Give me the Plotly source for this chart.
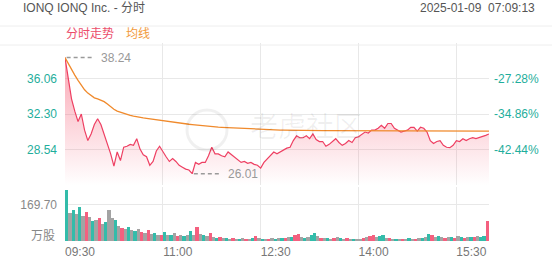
import plotly.graph_objects as go

# ---------------- data ----------------
minutes = list(range(0, 391, 3))  # minutes after 09:30

price = [
    38.24, 35.9, 33.9, 32.6, 31.5, 32.3, 30.6, 29.5, 30.2, 31.2,
    31.8, 31.2, 30.2, 29.2, 28.1, 26.8, 28.3, 27.4, 28.8, 28.9,
    29.1, 29.0, 29.7, 28.6, 28.0, 27.8, 26.9, 27.3, 28.4, 28.9,
    28.3, 27.8, 27.3, 27.6, 27.3, 26.9, 26.7, 26.5, 26.4, 26.01,
    27.2, 27.0, 27.2, 27.2, 27.9, 28.8, 28.1, 28.1, 27.9, 27.8,
    28.3, 28.0, 27.8, 27.4, 27.2, 27.3, 27.1, 27.2, 27.0, 26.9,
    26.6, 27.2, 27.6, 27.9, 28.3, 28.1, 28.3, 28.5, 28.7, 28.8,
    29.5, 30.0, 29.8, 29.8, 30.0, 29.7, 30.2, 29.6, 29.4, 29.4,
    28.9, 29.1, 29.4, 29.7, 29.3, 29.0, 29.2, 29.5, 29.3, 29.8,
    29.9, 30.2, 30.4, 30.3, 30.6, 30.6, 30.8, 31.1, 30.8, 31.3,
    31.3, 30.8, 30.6, 30.4, 30.5, 30.6, 30.9, 30.9, 30.5, 30.9,
    30.8, 30.4, 29.5, 29.2, 29.4, 29.5, 29.0, 28.8, 28.75, 29.0,
    29.5, 29.4, 29.7, 29.5, 29.7, 29.8, 29.7, 29.8, 29.9, 30.05,
    30.2,
]

avg_price = [
    38.24, 37.6, 37.0, 36.4, 35.85, 35.35, 34.85, 34.5, 34.2, 34.0,
    33.9, 33.75, 33.6, 33.35, 33.05, 32.8, 32.6, 32.48, 32.35, 32.25,
    32.15, 32.08, 32.0, 31.95, 31.9, 31.85, 31.8, 31.73, 31.66, 31.6,
    31.57, 31.53, 31.5, 31.45, 31.4, 31.35, 31.3, 31.26, 31.22, 31.18,
    31.14, 31.1, 31.07, 31.04, 31.0, 30.97, 30.94, 30.92, 30.9, 30.88,
    30.86, 30.84, 30.82, 30.8, 30.78, 30.76, 30.74, 30.72, 30.7, 30.68,
    30.66, 30.65, 30.64, 30.63, 30.62, 30.61, 30.6, 30.6, 30.59, 30.59,
    30.58, 30.58, 30.57, 30.57, 30.57, 30.56, 30.56, 30.56, 30.55, 30.55,
    30.55, 30.55, 30.54, 30.54, 30.54, 30.54, 30.53, 30.53, 30.53, 30.53,
    30.53, 30.53, 30.53, 30.53, 30.53, 30.53, 30.53, 30.53, 30.53, 30.53,
    30.53, 30.53, 30.53, 30.53, 30.53, 30.53, 30.53, 30.53, 30.52, 30.52,
    30.52, 30.52, 30.52, 30.51, 30.51, 30.51, 30.51, 30.5, 30.5, 30.5,
    30.5, 30.5, 30.5, 30.5, 30.5, 30.5, 30.5, 30.5, 30.5, 30.5,
    30.5,
]

vol_minutes = list(range(0, 390, 3))
volume = [
    240, 130, 145, 125, 160, 120, 135, 115, 92, 98,
    108, 82, 90, 148, 110, 100, 72, 62, 56, 66,
    52, 46, 58, 42, 36, 50, 32, 36, 28, 26,
    42, 30, 26, 36, 22, 26, 22, 30, 46, 26,
    66, 34, 26, 22, 40, 20, 15, 17, 14, 12,
    11, 14, 10, 9, 15, 11, 10, 13, 24, 12,
    10, 9, 11, 14, 10, 12, 15, 13, 17, 20,
    26, 34, 20, 16, 18, 26, 36, 24, 15, 16,
    12, 11, 15, 18, 13, 10, 14, 10, 8, 11,
    10, 16, 18, 22, 30, 21, 24, 27, 16, 12,
    10, 8, 11, 10, 8, 12, 10, 11, 13, 15,
    18, 34, 27, 21, 25, 18, 16, 20, 18, 16,
    22, 18, 15, 20, 17, 19, 23, 20, 25, 95,
]
# u = up (red), d = down (green), n = flat (grey)
vol_dir = list(
    "dndndnundn" "undnndnund" "ndnunundnu" "dndnundndn"
    "undnundund" "nundnundun" "dnundndund" "uundnddnun"
    "dnundnundn" "nunuunddnu" "ndnundnund" "ndundnundu"
    "ndundunddu"
)

price_ticks = [28.54, 32.30, 36.06]
price_ticktext = ["28.54", "32.30", "36.06"]
pct_ticktext = ["-42.44%", "-34.86%", "-27.28%"]
vol_ticks = [169.70]
vol_ticktext = ["169.70"]
time_ticks = [0, 90, 180, 270, 360, 390]
time_ticktext = ["09:30", "11:00", "12:30", "14:00", "15:30", ""]

title_text = "IONQ IONQ Inc. - 分时"
date_text = "2025-01-09  07:09:13"
legend_labels = ["分时走势", "均线"]
vol_unit = "万股"
watermark = "老虎社区"

# ---------------- style ----------------
W, H = 552, 265
FONT = "Liberation Sans, Arial, Noto Sans CJK SC, sans-serif"
RED = "#ee3f62"
ORANGE = "#f08a2c"
TEAL = "#1fae9c"
GRID = "#e8e8e8"
dir_color = {"u": "#f4607f", "d": "#33bcaa", "n": "#a3a3a3"}


def px_x(p):
    return p / W


def px_y(p):
    return 1 - p / H


x_dom = [px_x(65), px_x(489)]
p_range = [24.78, 39.82]
p_dom = [px_y(185.4), px_y(42.6)]
v_range = [0, 254.5]
v_dom = [px_y(241), px_y(187)]

fig = go.Figure()

fig.add_trace(go.Scatter(
    x=minutes, y=price, mode="lines", xaxis="x", yaxis="y",
    line=dict(color=RED, width=1.2), fill="tozeroy",
    fillgradient=dict(type="vertical", start=p_range[0], stop=max(price),
                      colorscale=[[0, "rgba(245,90,115,0.0)"],
                                  [0.45, "rgba(245,90,115,0.24)"],
                                  [1, "rgba(245,90,115,0.55)"]]),
    hoverinfo="skip", showlegend=False,
))
fig.add_trace(go.Scatter(
    x=minutes, y=avg_price, mode="lines", xaxis="x", yaxis="y3",
    line=dict(color=ORANGE, width=1.3), hoverinfo="skip", showlegend=False,
))

# max / min markers
imax = price.index(max(price))
imin = price.index(min(price))
for idx in (imax, imin):
    m = minutes[idx]
    v = price[idx]
    fig.add_trace(go.Scatter(
        x=[m + 1.5, m + 26], y=[v, v], mode="lines", xaxis="x", yaxis="y",
        line=dict(color="#9a9a9a", width=1.5, dash="4px,3px"),
        hoverinfo="skip", showlegend=False,
    ))
    fig.add_annotation(x=m + 31, y=v, xref="x", yref="y", text=f"{v:.2f}",
                       showarrow=False, xanchor="left", yanchor="middle",
                       font=dict(family=FONT, size=12, color="#999999"))

fig.add_trace(go.Bar(
    x=[m + 1.5 for m in vol_minutes], y=volume, width=3,
    marker=dict(color=[dir_color[d] for d in vol_dir], line=dict(width=0)),
    xaxis="x2", yaxis="y2", hoverinfo="skip", showlegend=False,
))

axis_common = dict(range=[0, 390], tickvals=time_ticks, showgrid=True,
                   gridcolor=GRID, gridwidth=1, zeroline=False, ticks="",
                   showline=False, domain=x_dom, fixedrange=True)

fig.update_layout(
    width=W, height=H, autosize=False,
    margin=dict(l=0, r=0, t=0, b=0),
    paper_bgcolor="white", plot_bgcolor="white",
    bargap=0,
    xaxis=dict(**axis_common, anchor="y", showticklabels=False),
    xaxis2=dict(**axis_common, anchor="y2", ticktext=time_ticktext,
                tickfont=dict(family=FONT, size=12, color="#777777"),
                ticklabelshift=15, ticklabelstandoff=2),
    yaxis=dict(domain=p_dom, range=p_range, tickvals=price_ticks,
               ticktext=price_ticktext, showgrid=True, gridcolor=GRID,
               zeroline=False, ticks="", ticklabelstandoff=7,
               tickfont=dict(family=FONT, size=12, color=TEAL)),
    yaxis3=dict(overlaying="y", side="right", anchor="x", range=p_range,
                tickvals=price_ticks, ticktext=pct_ticktext, showgrid=False,
                zeroline=False, ticks="", ticklabelstandoff=4,
                tickfont=dict(family=FONT, size=12, color=TEAL)),
    yaxis2=dict(domain=v_dom, range=v_range, tickvals=vol_ticks,
                ticktext=vol_ticktext, showgrid=True, gridcolor=GRID,
                zeroline=False, ticks="", ticklabelstandoff=7,
                tickfont=dict(family=FONT, size=12, color="#888888")),
)

# header texts
fig.add_annotation(x=px_x(21), y=px_y(8), xref="paper", yref="paper",
                   text=title_text, showarrow=False, xanchor="left",
                   yanchor="middle",
                   font=dict(family=FONT, size=12, color="#555555"))
fig.add_annotation(x=px_x(537), y=px_y(8), xref="paper", yref="paper",
                   text=date_text, showarrow=False, xanchor="right",
                   yanchor="middle",
                   font=dict(family=FONT, size=12, color="#555555"))
fig.add_annotation(x=px_x(64), y=px_y(34), xref="paper", yref="paper",
                   text=legend_labels[0], showarrow=False, xanchor="left",
                   yanchor="middle",
                   font=dict(family=FONT, size=12, color="#ec4d6b"))
fig.add_annotation(x=px_x(124), y=px_y(34), xref="paper", yref="paper",
                   text=legend_labels[1], showarrow=False, xanchor="left",
                   yanchor="middle",
                   font=dict(family=FONT, size=12, color="#f29a3c"))
fig.add_annotation(x=px_x(57), y=px_y(236), xref="paper", yref="paper",
                   text=vol_unit, showarrow=False, xanchor="right",
                   yanchor="middle",
                   font=dict(family=FONT, size=12, color="#888888"))
# watermark
fig.add_annotation(x=px_x(306), y=px_y(127), xref="paper", yref="paper",
                   text=watermark, showarrow=False, xanchor="center",
                   yanchor="middle",
                   font=dict(family=FONT, size=28, color="rgba(0,0,0,0.06)"))
fig.add_shape(type="circle", xref="paper", yref="paper",
              x0=px_x(187), x1=px_x(227), y0=px_y(150), y1=px_y(110),
              line=dict(color="rgba(0,0,0,0.06)", width=3))

# header separator lines
for yy in (26, 45):
    fig.add_shape(type="line", xref="paper", yref="paper", x0=0, x1=1,
                  y0=px_y(yy), y1=px_y(yy),
                  line=dict(color="#eeeeee", width=1))

fig.write_html("out.html")
